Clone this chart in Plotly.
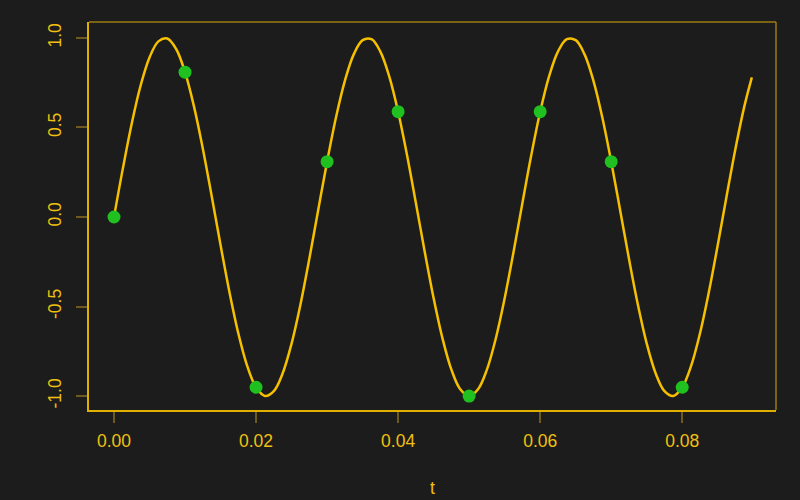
import plotly.graph_objects as go

# curve samples (t, value)
curve_t = [0.0, 0.00125, 0.0025, 0.00375, 0.005, 0.00625, 0.0075, 0.00875, 0.01, 0.01125,
           0.0125, 0.01375, 0.015, 0.01625, 0.0175, 0.01875, 0.02, 0.02125, 0.0225, 0.02375,
           0.025, 0.02625, 0.0275, 0.02875, 0.03, 0.03125, 0.0325, 0.03375, 0.035, 0.03625,
           0.0375, 0.03875, 0.04, 0.04125, 0.0425, 0.04375, 0.045, 0.04625, 0.0475, 0.04875,
           0.05, 0.05125, 0.0525, 0.05375, 0.055, 0.05625, 0.0575, 0.05875, 0.06, 0.06125,
           0.0625, 0.06375, 0.065, 0.06625, 0.0675, 0.06875, 0.07, 0.07125, 0.0725, 0.07375,
           0.075, 0.07625, 0.0775, 0.07875, 0.08, 0.08125, 0.0825, 0.08375, 0.085, 0.08625,
           0.0875, 0.08875, 0.0898]
curve_y = [0.0, 0.2714, 0.5225, 0.7343, 0.8910, 0.9808, 0.9969, 0.9382, 0.8090, 0.6191,
           0.3827, 0.1175, -0.1564, -0.4187, -0.6494, -0.8315, -0.9511, -0.9992, -0.9724, -0.8725,
           -0.7071, -0.4886, -0.2334, 0.0393, 0.3090, 0.5556, 0.7604, 0.9081, 0.9877, 0.9931,
           0.9239, 0.7853, 0.5878, 0.3461, 0.0785, -0.1951, -0.4540, -0.6788, -0.8526, -0.9625,
           -1.0, -0.9625, -0.8526, -0.6788, -0.4540, -0.1951, 0.0785, 0.3461, 0.5878, 0.7853,
           0.9239, 0.9931, 0.9877, 0.9081, 0.7604, 0.5556, 0.3090, 0.0393, -0.2334, -0.4886,
           -0.7071, -0.8725, -0.9724, -0.9992, -0.9511, -0.8315, -0.6494, -0.4187, -0.1564, 0.1175,
           0.3827, 0.6191, 0.78]

# sampled points
pts_t = [0.00, 0.01, 0.02, 0.03, 0.04, 0.05, 0.06, 0.07, 0.08]
pts_y = [0.0, 0.809, -0.951, 0.309, 0.588, -1.0, 0.588, 0.309, -0.951]

x_ticks = [0.00, 0.02, 0.04, 0.06, 0.08]
x_labels = ["0.00", "0.02", "0.04", "0.06", "0.08"]
y_ticks = [-1.0, -0.5, 0.0, 0.5, 1.0]
y_labels = ["-1.0", "-0.5", "0.0", "0.5", "1.0"]

BG = "#1c1c1c"
TXT = "#f0c010"
LINE = "#f5c000"
TICK = "#6e5a1e"
BOX_BRIGHT = "#e0b000"
BOX_DIM = "#9a7c10"

fig = go.Figure()
fig.add_trace(go.Scatter(x=curve_t, y=curve_y, mode="lines",
                         line=dict(color=LINE, width=2.5, shape="spline", smoothing=1.0),
                         hoverinfo="skip"))
fig.add_trace(go.Scatter(x=pts_t, y=pts_y, mode="markers",
                         marker=dict(color="#1fc01f", size=13, line=dict(width=0))))

fig.update_layout(
    width=800, height=500,
    margin=dict(l=89, r=24, t=22, b=90),
    paper_bgcolor=BG, plot_bgcolor=BG,
    showlegend=False,
    font=dict(family="Liberation Sans, Arial, sans-serif", size=17, color=TXT),
    xaxis=dict(range=[-0.00352, 0.0932], tickvals=x_ticks, ticktext=x_labels,
               automargin=False,
               showgrid=False, zeroline=False, showline=True, linecolor=BOX_BRIGHT, linewidth=1.5,
               ticks="outside", ticklen=11, tickcolor=TICK, tickwidth=1.5,
               ticklabelstandoff=3,
               tickfont=dict(size=17.5, color=TXT),
               title=dict(text="t", font=dict(size=17.5, color=TXT), standoff=32)),
    yaxis=dict(range=[-1.078, 1.089], tickvals=y_ticks, ticktext=y_labels,
               automargin=False,
               showgrid=False, zeroline=False, showline=True, linecolor=BOX_BRIGHT, linewidth=1.5,
               ticks="outside", ticklen=11, tickcolor=TICK, tickwidth=1.5,
               ticklabelstandoff=8,
               tickangle=-90, tickfont=dict(size=17.5, color=TXT)),
    shapes=[
        dict(type="line", xref="paper", yref="paper", x0=0, x1=1, y0=1, y1=1,
             line=dict(color=BOX_DIM, width=1.5)),
        dict(type="line", xref="paper", yref="paper", x0=1, x1=1, y0=0, y1=1,
             line=dict(color=BOX_DIM, width=1.5)),
    ],
)

fig.write_html("out.html", config={"displayModeBar": False},
               post_script="document.body.style.margin='0';")
